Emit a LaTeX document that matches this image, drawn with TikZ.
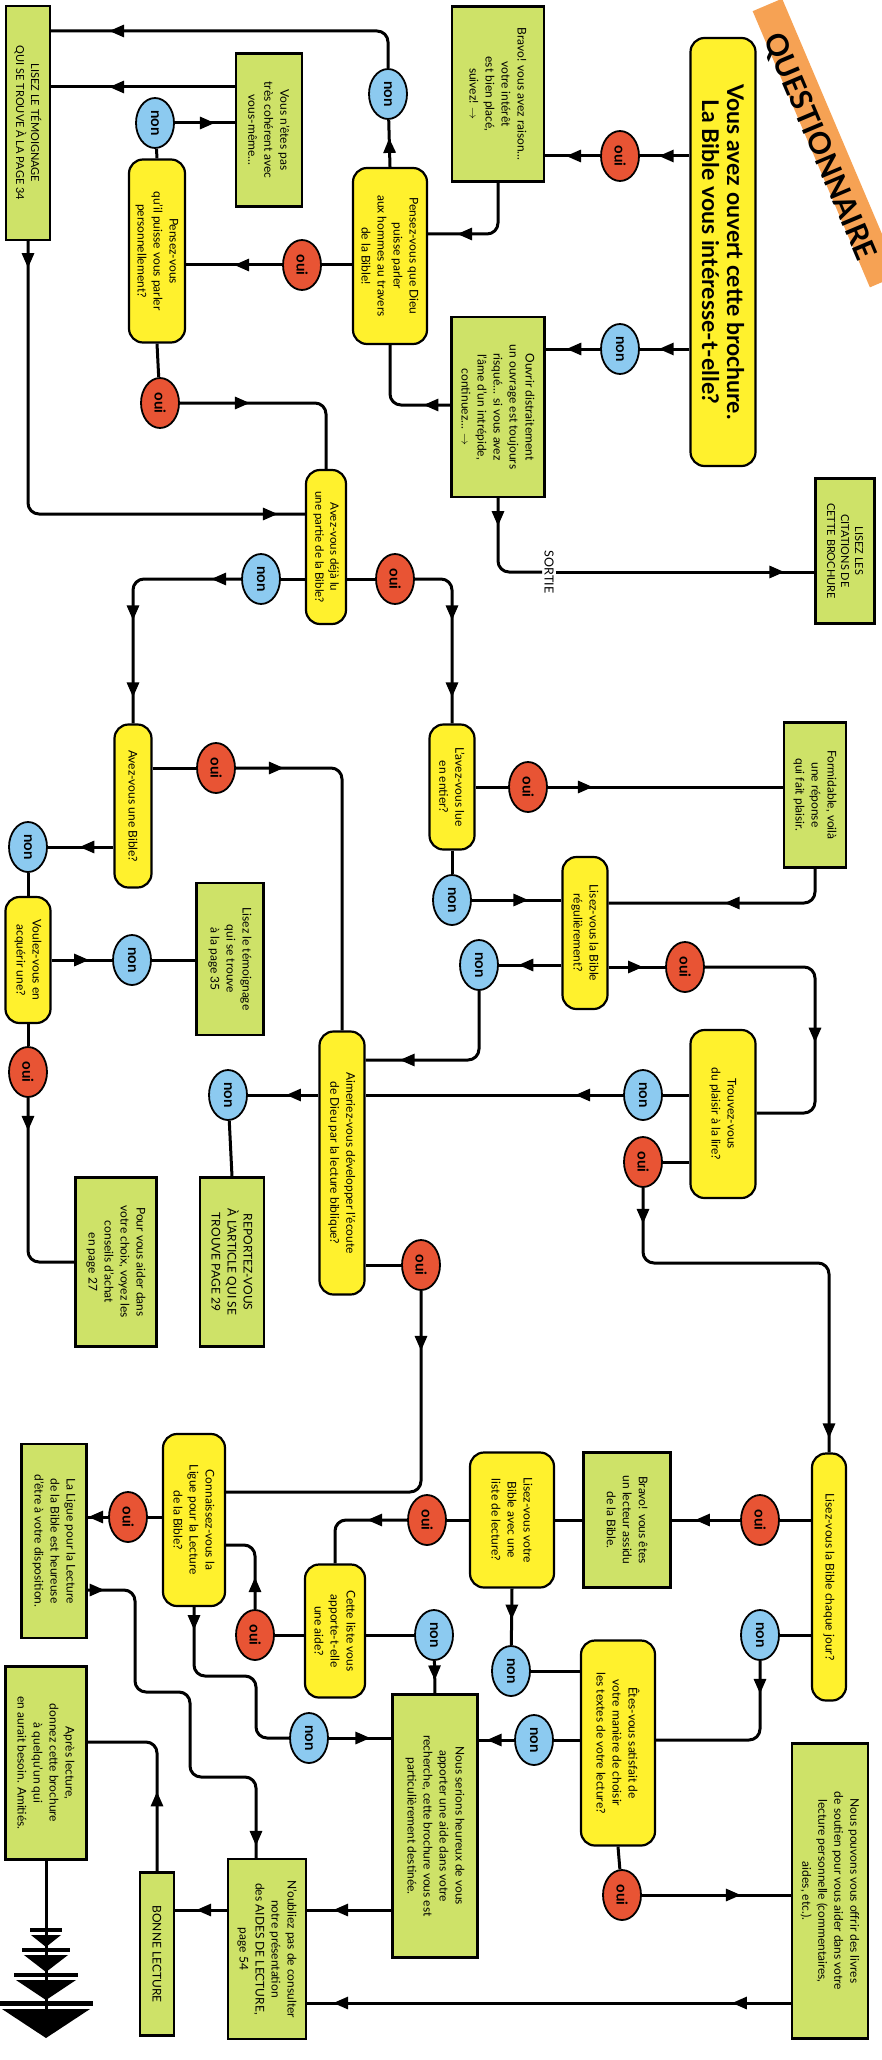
\documentclass[tikz,border=0pt]{standalone}
\usepackage{fontspec}
\setmainfont{Lato}
\usetikzlibrary{arrows.meta,shapes.geometric,decorations.markings}
\definecolor{byellow}{RGB}{255,241,45}
\definecolor{bgreen}{RGB}{206,226,104}
\definecolor{ored}{RGB}{232,84,52}
\definecolor{nblue}{RGB}{140,202,240}
\definecolor{qorange}{RGB}{246,162,84}
\tikzset{
  conn/.style={line width=3pt, rounded corners=11pt, line join=round},
  am/.style={postaction={decorate,decoration={markings,mark=at position #1 with {\arrow{Triangle[length=15pt,width=12pt]}}}}},
  sz/.style 2 args={minimum width=#2, minimum height=#1},
  box/.style={draw=black, line width=2.2pt, rotate=-90, align=center, inner sep=2pt, font=\fontsize{12}{16}\selectfont},
  gbox/.style={box, rectangle, fill=bgreen},
  ybox/.style={box, rectangle, rounded corners=14pt, fill=byellow},
  lab/.style={ellipse, draw=black, line width=1.8pt, rotate=-90, minimum width=50pt, minimum height=38pt, inner sep=0pt, font=\bfseries\fontsize{15}{15}\selectfont},
  oui/.style={lab, fill=ored},
  non/.style={lab, fill=nblue},
}
\begin{document}
\begin{tikzpicture}[x=1pt,y=-1pt]
\useasboundingbox (0,0) rectangle (881,2060);
\fill[white] (0,0) rectangle (881,2060);

% ---------- title area
\node[fill=qorange, rotate=-67, minimum width=300pt, minimum height=32pt] (qband) at (826,143) {};
\node[rotate=-67, font=\bfseries\fontsize{30}{30}\selectfont] (qtext) at (819,147) {QUESTIONNAIRE};
\node[ybox, sz={65pt}{428pt}, font=\bfseries\fontsize{23}{25}\selectfont] (T) at (723,252) {Vous avez ouvert cette brochure.\\La Bible vous intéresse-t-elle?};
\node[oui] (o1) at (620,156) {oui};
\node[gbox, sz={92pt}{175pt}] (bravo) at (498,94) {Bravo! vous avez raison...\\votre intérêt\\est bien placé,\\suivez! $\rightarrow$};
\node[non] (n1) at (620,349) {non};
\node[gbox, sz={93pt}{180pt}] (ouvrir) at (498,407) {Ouvrir distraitement\\un ouvrage est toujours\\risqué... si vous avez\\l'âme d'un intrépide,\\continuez... $\rightarrow$};
\node[gbox, sz={59pt}{145pt}, font=\fontsize{11}{14}\selectfont] (cit) at (845,551) {LISEZ LES\\CITATIONS DE\\CETTE BROCHURE};
\node[fill=white, rotate=-90, inner sep=2pt, font=\fontsize{12.5}{12.5}\selectfont] (sortie) at (549,572) {SORTIE};

% ---------- top left
\node[gbox, sz={44pt}{234pt}, font=\fontsize{11}{15}\selectfont] (A) at (28,123) {LISEZ LE TÉMOIGNAGE\\QUI SE TROUVE À LA PAGE 34};
\node[gbox, sz={66pt}{153pt}] (B) at (269,130) {Vous n'êtes pas\\très cohérent avec\\vous-même...};
\node[non] (nt) at (388,94) {non};
\node[ybox, sz={74pt}{176pt}] (P1) at (390,256) {Pensez-vous que Dieu\\puisse parler\\aux hommes au travers\\de la Bible!};
\node[non] (ns) at (155,123) {non};
\node[ybox, sz={56pt}{183pt}] (P2) at (157,251) {Pensez-vous\\qu'il puisse vous parler\\personnellement?};
\node[oui] (om) at (302,265) {oui};
\node[oui] (os) at (160,403) {oui};
\node[ybox, sz={40pt}{154pt}, font=\fontsize{11.5}{15}\selectfont] (AV) at (326,547) {Avez-vous déjà lu\\une partie de la Bible?};
\node[non] (na) at (261,579) {non};
\node[oui] (oa) at (395,579) {oui};

% ---------- middle
\node[ybox, sz={37pt}{163pt}] (AB) at (133,806) {Avez-vous une Bible?};
\node[oui] (ob) at (216,768) {oui};
\node[non] (nb) at (28,847) {non};
\node[ybox, sz={45pt}{126pt}] (VA) at (28,960) {Voulez-vous en\\acquérir une?};
\node[non] (nd) at (132,960) {non};
\node[gbox, sz={67pt}{152pt}] (T35) at (230,959) {Lisez le témoignage\\qui se trouve\\à la page 35};
\node[oui] (oe) at (28,1072) {oui};
\node[gbox, sz={81pt}{169pt}] (PV) at (116,1262) {Pour vous aider dans\\votre choix, voyez les\\conseils d'achat\\en page 27};
\node[ybox, sz={45pt}{263pt}] (AM) at (342,1163) {Aimeriez-vous développer l'écoute\\de Dieu par la lecture biblique?};
\node[non] (ne) at (228,1095) {non};
\node[gbox, sz={64pt}{169pt}] (RE) at (232,1262) {REPORTEZ-VOUS\\À L'ARTICLE QUI SE\\TROUVE PAGE 29};
\node[oui] (og) at (421,1265) {oui};
\node[ybox, sz={45pt}{125pt}] (LE) at (452,787) {L'avez-vous lue\\en entier?};
\node[oui] (oc) at (528,787) {oui};
\node[gbox, sz={62pt}{145pt}] (FO) at (815,795) {Formidable, voilà\\une réponse\\qui fait plaisir.};
\node[non] (nc) at (452,900) {non};
\node[ybox, sz={45pt}{152pt}] (LR) at (585,933) {Lisez-vous la Bible\\régulièrement?};
\node[non] (nf) at (479,965) {non};
\node[oui] (of) at (685,967) {oui};
\node[ybox, sz={65pt}{168pt}] (TP) at (723,1114) {Trouvez-vous\\du plaisir à la lire?};
\node[non] (ng) at (643,1095) {non};
\node[oui] (oh) at (643,1162) {oui};

% ---------- lower
\node[ybox, sz={34pt}{247pt}] (CJ) at (829,1577) {Lisez-vous la Bible chaque jour?};
\node[oui] (on) at (760,1520) {oui};
\node[gbox, sz={87pt}{135pt}] (BA) at (627,1520) {Bravo! vous êtes\\un lecteur assidu\\de la Bible.};
\node[ybox, sz={84pt}{135pt}] (LB) at (512,1520) {Lisez-vous votre\\Bible avec une\\liste de lecture?};
\node[oui] (ol) at (427,1520) {oui};
\node[ybox, sz={60pt}{133pt}] (CA) at (335,1631) {Cette liste vous\\apporte-t-elle\\une aide?};
\node[oui] (oj) at (255,1635) {oui};
\node[non] (nk) at (434,1635) {non};
\node[ybox, sz={62pt}{172pt}] (CL) at (194,1520) {Connaissez-vous la\\Ligue pour la Lecture\\de la Bible?};
\node[oui] (oi) at (128,1517) {oui};
\node[gbox, sz={65pt}{194pt}] (LL) at (54,1541) {La Ligue pour la Lecture\\de la Bible est heureuse\\d'être à votre disposition.};
\node[non] (nj) at (309,1738) {non};
\node[gbox, sz={85pt}{263pt}] (NS) at (435,1826) {Nous serions heureux de vous\\apporter une aide dans votre\\recherche, cette brochure vous est\\particulièrement destinée.};
\node[non] (nm) at (511,1671) {non};
\node[non] (np) at (534,1740) {non};
\node[ybox, sz={74pt}{205pt}] (ES) at (618,1743) {Êtes-vous satisfait de\\votre manière de choisir\\les textes de votre lecture?};
\node[non] (nn) at (760,1635) {non};
\node[oui] (oo) at (622,1895) {oui};
\node[gbox, sz={76pt}{295pt}] (NP) at (830,1891) {Nous pouvons vous offrir des livres\\de soutien pour vous aider dans votre\\lecture personnelle (commentaires,\\aides, etc.).};
\node[gbox, sz={78pt}{180pt}] (NO) at (267,1949) {N'oubliez pas de consulter\\notre présentation\\des AIDES DE LECTURE,\\page 54};
\node[gbox, sz={34pt}{163pt}] (BL) at (157,1954) {BONNE LECTURE};
\node[gbox, sz={81pt}{193pt}] (AL) at (46,1763) {Après lecture,\\donnez cette brochure\\à quelqu'un qui\\en aurait besoin. Amitiés.};
\coordinate (stk) at (46,2030);

% ---------- connectors: top
\draw[conn, am=0.62] (T.south |- o1) -- (o1);
\draw[conn, am=0.62] (o1) -- (bravo.north |- o1);
\draw[conn, am=0.62] (T.south |- n1) -- (n1);
\draw[conn, am=0.62] (n1) -- (ouvrir.north |- n1);
\draw[conn, am=-29pt] (bravo.east) |- (P1.north |- 0,234);
\draw[conn, am=27pt] (ouvrir.south |- 0,405) -| (P1.east);
\draw[conn, am=28pt] (ouvrir.east) |- (sortie);
\draw[conn, am=-30pt] (sortie) -- (cit.south |- sortie);
\draw[conn, am=29pt] (P1.west) -- (nt);
\draw[conn, am=-58pt] (nt) |- (A.north |- 0,31);
\draw[conn, am=-58pt] (B.south |- 0,87) -- (A.north |- 0,87);
\draw[conn] (ns) -- (P2.west);
\draw[conn, am=-20pt] (ns) -- (B.south |- ns);
\draw[conn] (P1.south |- om) -- (om);
\draw[conn, am=0.5] (om) -- (P2.north |- om);
\draw[conn] (P2.east) -- (os);
\draw[conn, am=70pt] (os) -| (AV.west);
\draw[conn, am=27pt, am=-27pt] (A.east) |- (AV.south |- 0,514);
\draw[conn] (AV.south |- na) -- (na);
\draw[conn, am=30pt, am=-103pt, am=-26pt] (na) -| (AB.west);
\draw[conn] (AV.north |- oa) -- (oa);
\draw[conn, am=-103pt, am=-26pt] (oa) -| (LE.west);

% ---------- connectors: middle
\draw[conn] (AB.north |- ob) -- (ob);
\draw[conn, am=48pt] (ob) -| (AM.west);
\draw[conn, am=0.52] (AB.south |- nb) -- (nb);
\draw[conn] (nb) -- (VA.west);
\draw[conn, am=0.62] (VA.north |- nd) -- (nd);
\draw[conn] (nd) -- (T35.south |- nd);
\draw[conn] (VA.east) -- (oe);
\draw[conn, am=33pt] (oe) |- (PV.south |- 0,1262);
\draw[conn, am=0.46] (AM.south |- ne) -- (ne);
\draw[conn] (ne) -- (RE.west);
\draw[conn] (AM.north |- og) -- (og);
\draw[conn, am=60pt] (og) |- (CL.north |- 0,1492);
\draw[conn] (LE.north |- oc) -- (oc);
\draw[conn, am=45pt] (oc) -- (FO.south |- oc);
\draw[conn, am=-116pt] (FO.east) |- (LR.north |- 0,903);
\draw[conn] (LE.east) -- (nc);
\draw[conn, am=-33pt] (nc) -- (LR.south |- nc);
\draw[conn, am=0.69] (LR.south |- nf) -- (nf);
\draw[conn, am=-34pt] (nf) |- (AM.north |- 0,1060);
\draw[conn, am=0.61] (LR.north |- of) -- (of);
\draw[conn, am=-124pt] (of) -| (FO.east |- 0,1040) |- (TP.north |- 0,1113);
\draw[conn] (TP.south |- ng) -- (ng);
\draw[conn, am=48pt] (ng) -- (AM.north |- ng);
\draw[conn] (TP.south |- oh) -- (oh);
\draw[conn, am=36pt, am=-14pt] (oh) |- (CJ.west |- 0,1263) -- (CJ.west);

% ---------- connectors: lower
\draw[conn] (CJ.south |- on) -- (on);
\draw[conn, am=0.66] (on) -- (BA.north |- on);
\draw[conn] (BA.south |- on) -- (LB.north |- on);
\draw[conn] (LB.south |- ol) -- (ol);
\draw[conn, am=40pt] (ol) -| (CA.west);
\draw[conn] (CA.south |- oj) -- (oj);
\draw[conn, am=32pt] (oj) |- (CL.north |- 0,1545);
\draw[conn] (CA.north |- nk) -- (nk);
\draw[conn, am=0.6] (nk) -- (NS.west);
\draw[conn] (CL.south |- oi) -- (oi);
\draw[conn, am=-0.5pt] (oi) -- (LL.north |- oi);
\draw[conn, am=17pt, am=-12pt] (LL.north |- 0,1590) -- (135,1590) -- (135,1692) -- (190,1692) -- (190,1777) -- (256,1777) -- (NO.west -| 256,0);
\draw[conn, am=23pt] (CL.east) |- (256,1676) |- (nj);
\draw[conn, am=-21pt] (nj) -- (NS.south |- nj);
\draw[conn, am=31pt] (LB.east) -- (nm);
\draw[conn] (nm) -- (ES.south |- nm);
\draw[conn] (ES.south |- np) -- (np);
\draw[conn, am=-8pt] (np) -- (NS.north |- np);
\draw[conn] (CJ.south |- nn) -- (nn);
\draw[conn, am=33pt] (nn) |- (ES.north |- np);
\draw[conn] (ES.east) -- (oo);
\draw[conn, am=-50pt] (oo) -- (NP.south |- oo);
\draw[conn, am=-26pt] (NS.south |- 0,1910) -- (NO.north |- 0,1910);
\draw[conn, am=59pt, am=-26pt] (NP.south |- 0,2003) -- (NO.north |- 0,2003);
\draw[conn, am=-21pt] (NO.south |- 0,1910) -- (BL.north |- 0,1910);
\draw[conn, am=80pt] (BL.west) |- (AL.north |- 0,1742);
\draw[conn] (AL.east) -- (stk);

% ---------- arrow stack
\fill (30,1928) rectangle (62,1932);
\fill (31,1935) -- (61,1935) -- (46,1947) -- cycle;
\fill (22,1948) rectangle (70,1952);
\fill (24,1955) -- (68,1955) -- (46,1972) -- cycle;
\fill (14,1973) rectangle (78,1977);
\fill (16,1980) -- (76,1980) -- (46,2000) -- cycle;
\fill (0,2001) rectangle (93,2006);
\fill (2,2009) -- (90,2009) -- (46,2038) -- cycle;
\end{tikzpicture}
\end{document}
